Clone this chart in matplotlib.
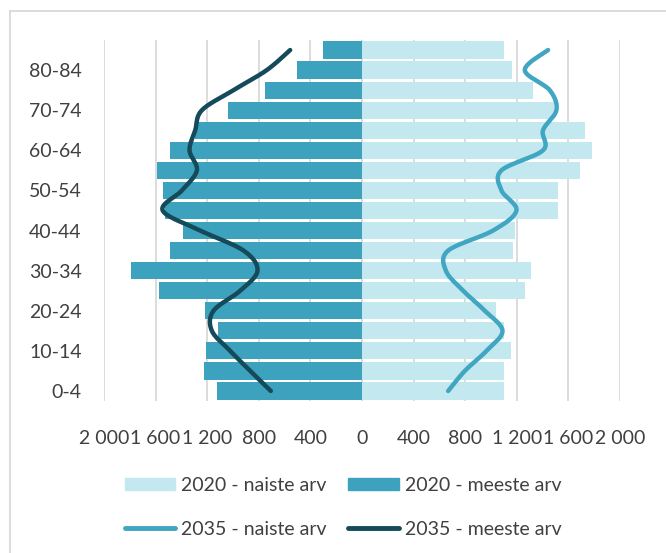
import numpy as np
import matplotlib
matplotlib.use("Agg")
import matplotlib.pyplot as plt
from matplotlib.lines import Line2D
from matplotlib.patches import Patch

plt.rcParams['font.family'] = ['Lato', 'DejaVu Sans']

# vanuserühmad (alt üles)
ages = ['0-4', '5-9', '10-14', '15-19', '20-24', '25-29', '30-34', '35-39', '40-44',
        '45-49', '50-54', '55-59', '60-64', '65-69', '70-74', '75-79', '80-84', '85+']

women_2020 = [1099, 1099, 1153, 1102, 1037, 1264, 1311, 1171, 1184,
              1522, 1522, 1692, 1780, 1729, 1490, 1326, 1161, 1099]
men_2020 = [1125, 1225, 1213, 1120, 1218, 1571, 1788, 1491, 1388,
            1525, 1543, 1589, 1486, 1293, 1037, 751, 501, 300]
women_2035 = [668, 797, 965, 1089, 952, 784, 650, 668, 1016,
              1197, 1081, 1081, 1403, 1403, 1507, 1455, 1262, 1442]
men_2035 = [707, 867, 1022, 1164, 1151, 944, 810, 918, 1254,
            1545, 1396, 1280, 1337, 1293, 1241, 996, 738, 557]

xticks = [-2000, -1600, -1200, -800, -400, 0, 400, 800, 1200, 1600, 2000]

c_women_bar = '#C3E8F0'
c_men_bar = '#3CA2BE'
c_women_line = '#40A6C1'
c_men_line = '#154A5A'
c_text = '#404040'
c_grid = '#D9D9D9'


def smooth(xs, ys, n=20):
    # Exceli "smoothed line" moodi Catmull-Rom kõver
    p = np.column_stack([xs, ys]).astype(float)
    p = np.vstack([p[0], p, p[-1]])
    out = []
    t = np.linspace(0, 1, n)[:, None]
    for i in range(1, len(p) - 2):
        p0, p1, p2, p3 = p[i - 1], p[i], p[i + 1], p[i + 2]
        c1 = p1 + (p2 - p0) / 6
        c2 = p2 - (p3 - p1) / 6
        seg = ((1 - t) ** 3) * p1 + 3 * ((1 - t) ** 2) * t * c1 + 3 * (1 - t) * t ** 2 * c2 + t ** 3 * p2
        out.append(seg if i == 1 else seg[1:])
    out = np.vstack(out)
    return out[:, 0], out[:, 1]


fig = plt.figure(figsize=(6.66, 5.53), dpi=100)
ax = fig.add_axes([104 / 666, 1 - 401 / 553, 516 / 666, 361 / 553])

y = np.arange(len(ages))
ax.barh(y, women_2020, height=0.86, color=c_women_bar, zorder=2)
ax.barh(y, -np.array(men_2020), height=0.86, color=c_men_bar, zorder=2)

xw, yw = smooth(women_2035, y)
ax.plot(xw, yw, color=c_women_line, lw=3.2, solid_capstyle='round', zorder=3)
xm, ym = smooth(-np.array(men_2035), y)
ax.plot(xm, ym, color=c_men_line, lw=3.2, solid_capstyle='round', zorder=3)

ax.set_xlim(-2000, 2000)
ax.set_ylim(-0.5, len(ages) - 0.5)
ax.set_xticks(xticks)
ax.set_xticklabels([f"{abs(v):,}".replace(',', ' ') for v in xticks])
ax.set_yticks(y[::2])
ax.set_yticklabels(ages[::2])
ax.tick_params(axis='x', length=0, pad=21, labelsize=14, labelcolor=c_text)
ax.tick_params(axis='y', length=0, pad=16, labelsize=14, labelcolor=c_text)
ax.grid(axis='x', color=c_grid, lw=1.3, zorder=0)
ax.set_axisbelow(True)
for s in ax.spines.values():
    s.set_visible(False)

handles = [Patch(color=c_women_bar), Line2D([], [], color=c_women_line, lw=3.5, solid_capstyle='round'),
           Patch(color=c_men_bar), Line2D([], [], color=c_men_line, lw=3.5, solid_capstyle='round')]
labels = ['2020 - naiste arv', '2035 - naiste arv', '2020 - meeste arv', '2035 - meeste arv']
fig.legend(handles, labels, loc='upper left', bbox_to_anchor=(115 / 666, 1 - 467 / 553),
           ncol=2, frameon=False, fontsize=14, labelcolor=c_text, borderpad=0,
           handlelength=2.6, handleheight=0.62, handletextpad=0.3,
           columnspacing=1.1, labelspacing=1.4)

# diagrammi raam (paistab ainult üleval ja vasakul)
fig.add_artist(Line2D([9.5 / 666, 9.5 / 666], [0, 1 - 11 / 553], color=c_grid, lw=1.3, transform=fig.transFigure))
fig.add_artist(Line2D([9.5 / 666, 1], [1 - 11 / 553, 1 - 11 / 553], color=c_grid, lw=1.3, transform=fig.transFigure))

fig.savefig('out.png', dpi=100)
